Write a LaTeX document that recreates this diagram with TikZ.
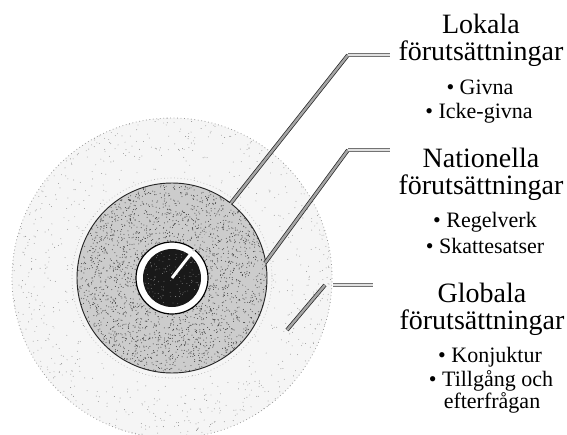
\documentclass[tikz,border=0pt]{standalone}
\usepackage{fontspec}
\setmainfont{Liberation Serif}
\begin{document}
\begin{tikzpicture}[x=0.75pt,y=-0.75pt,
  head/.style={font=\fontsize{21}{20.25}\selectfont, align=center, anchor=north, inner sep=0pt},
  item/.style={font=\fontsize{16.5}{19}\selectfont, anchor=base, inner sep=0pt},
  lead/.style={draw=black!85, line width=0.55pt, double=black!35, double distance=1.8pt},
  tail/.style={draw=black!55, line width=0.4pt, double=black!12, double distance=1.8pt},
  faint/.style={draw=black!20, line width=1.4pt},
  speck/.style={fill=black!75}]
\useasboundingbox (0,0) rectangle (567,435);
\coordinate (c) at (172,278);
% outer zone
\fill[black!4] (c) circle (160);
\pgfmathsetseed{11}
\foreach \i in {1,...,700}{
  \pgfmathsetmacro\rr{95+65*sqrt(rnd)}
  \pgfmathsetmacro\tt{360*rnd}
  \fill[black!45] ([shift={(\tt:\rr)}]c) circle (0.45);
}
\draw[black!40, dotted, line width=0.6pt] (c) circle (160);
% middle zone
\draw[black!30, dotted, line width=0.5pt] (c) circle (100);
\fill[black!20] (c) circle (95);
\foreach \i in {1,...,2600}{
  \pgfmathsetmacro\rr{95*sqrt(rnd)}
  \pgfmathsetmacro\tt{360*rnd}
  \fill[speck] ([shift={(\tt:\rr)}]c) circle (0.5);
}
\draw[black!85, line width=0.7pt] (c) circle (95);
% inner zone
\fill[white] (c) circle (36);
\draw[black, line width=0.9pt] (c) circle (36);
\fill[black!90] (c) circle (29);
\foreach \i in {1,...,120}{
  \pgfmathsetmacro\rr{28*sqrt(rnd)}
  \pgfmathsetmacro\tt{360*rnd}
  \fill[black!40] ([shift={(\tt:\rr)}]c) circle (0.4);
}
% leader 1
\coordinate (a0) at (193,251);
\coordinate (a1) at (231,203);
\coordinate (a2) at (348,55);
\coordinate (a3) at (390,55);
\draw[white, line width=2.2pt] (c) -- (a0);
\draw[faint] (a0) -- (a1);
\draw[lead] (a1) -- (a2);
\draw[tail] (a2) -- (a3);
% leader 2
\coordinate (b0) at (233,305);
\coordinate (b1) at (265,263);
\coordinate (b2) at (348,150);
\coordinate (b3) at (390,150);
\draw[faint] (b0) -- (b1);
\draw[lead] (b1) -- (b2);
\draw[tail] (b2) -- (b3);
% leader 3
\coordinate (g0) at (287,330);
\coordinate (g1) at (325,285);
\coordinate (g2) at (333,285);
\coordinate (g3) at (373,285);
\draw[lead] (g0) -- (g1);
\draw[tail] (g2) -- (g3);
% texts
\node[head] (t1) at (481,14) {Lokala\\förutsättningar};
\node[item] (t3) at (480,94) {• Givna};
\node[item] (t4) at (479,118) {• Icke-givna};
\node[head] (t5) at (481,148) {Nationella\\förutsättningar};
\node[item] (t7) at (485,227) {• Regelverk};
\node[item] (t8) at (485,253) {• Skattesatser};
\node[head] (t9) at (482,283) {Globala\\förutsättningar};
\node[item] (t11) at (490,362) {• Konjuktur};
\node[item] (t12) at (491,386) {• Tillgång och};
\node[item] (t13) at (492,408) {efterfrågan};
\end{tikzpicture}
\end{document}
